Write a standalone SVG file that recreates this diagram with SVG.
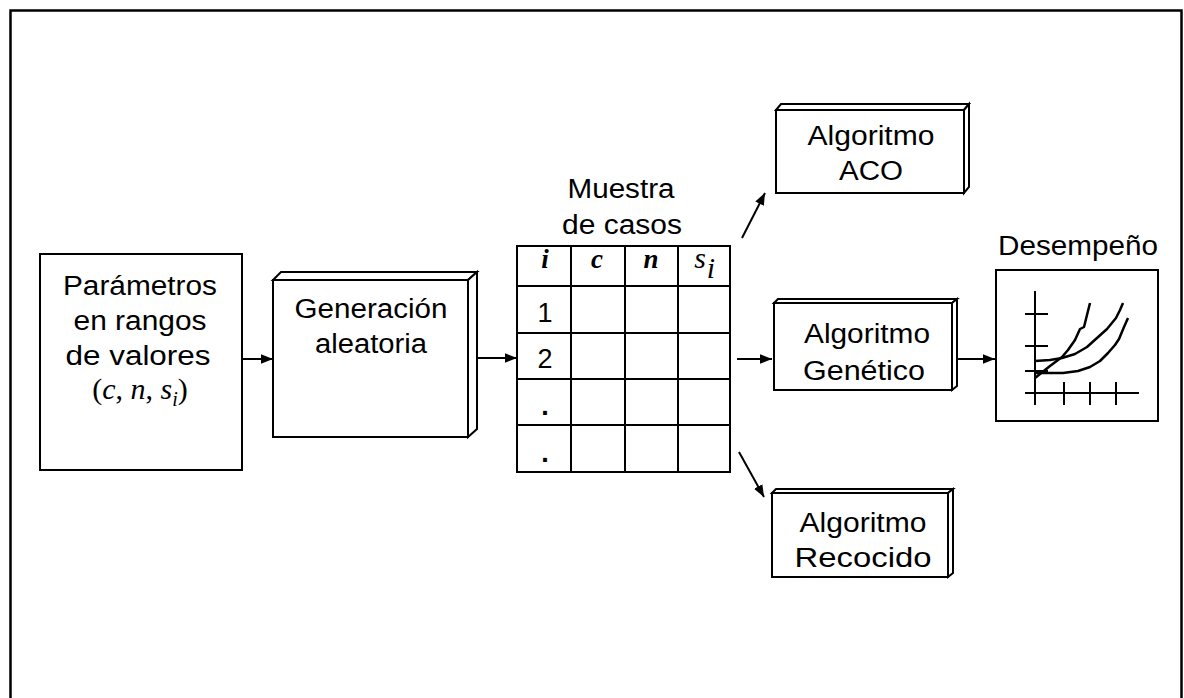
<svg xmlns="http://www.w3.org/2000/svg" width="1184" height="698" viewBox="0 0 1184 698">
  <defs>
    <marker id="head" viewBox="0 0 10 8" refX="10" refY="4" markerWidth="12" markerHeight="10" markerUnits="userSpaceOnUse" orient="auto">
      <path d="M0,0 L10,4 L0,8 Z" fill="#000"/>
    </marker>
    <style>
      .box { fill: #fff; stroke: #000; stroke-width: 2; stroke-linejoin: miter; }
      .lbl { font-family: "Liberation Sans", Arial, sans-serif; font-size: 27px; fill: #000; text-anchor: middle; }
      .math { font-family: "Liberation Serif", "Times New Roman", serif; font-size: 30px; fill: #000; text-anchor: middle; }
      .it { font-style: italic; }
      .hd { font-weight: bold; font-size: 27px; }
      .wire { stroke: #000; stroke-width: 2; fill: none; marker-end: url(#head); }
      .grid { stroke: #000; stroke-width: 2; fill: none; }
      .plot { stroke: #000; stroke-width: 2.5; fill: none; stroke-linejoin: round; }
    </style>
  </defs>

  <rect x="0" y="0" width="1184" height="698" fill="#fff"/>
  <!-- outer frame -->
  <rect x="10.5" y="10.5" width="1171" height="700" fill="none" stroke="#000" stroke-width="2.5"/>

  <!-- input parameters -->
  <g id="parametros">
    <rect class="box" x="40" y="254" width="202" height="216"/>
    <text class="lbl" x="140" y="295" textLength="154" lengthAdjust="spacingAndGlyphs">Parámetros</text>
    <text class="lbl" x="140" y="330" textLength="133" lengthAdjust="spacingAndGlyphs">en rangos</text>
    <text class="lbl" x="138" y="365" textLength="145" lengthAdjust="spacingAndGlyphs">de valores</text>
    <text class="math" x="140" y="399">(<tspan class="it">c</tspan>, <tspan class="it">n</tspan>, <tspan class="it">s</tspan><tspan class="it" font-size="20" dy="7">i</tspan><tspan dy="-7">)</tspan></text>
  </g>

  <!-- random generation (3D block) -->
  <g id="generacion">
    <polygon class="box" points="273,280 281,272 477,272 468,280"/>
    <polygon class="box" points="468,280 477,272 477,429 468,437"/>
    <rect class="box" x="273" y="280" width="195" height="157"/>
    <text class="lbl" x="371" y="318" textLength="153" lengthAdjust="spacingAndGlyphs">Generación</text>
    <text class="lbl" x="371" y="353" textLength="112" lengthAdjust="spacingAndGlyphs">aleatoria</text>
  </g>

  <!-- sample table -->
  <g id="muestra">
    <text class="lbl" x="621" y="198" textLength="107" lengthAdjust="spacingAndGlyphs">Muestra</text>
    <text class="lbl" x="622" y="234" textLength="120" lengthAdjust="spacingAndGlyphs">de casos</text>
    <rect class="grid" x="517" y="246" width="213" height="226" fill="#fff"/>
    <path class="grid" d="M571,246 V472 M625,246 V472 M678,246 V472 M517,286 H730 M517,333 H730 M517,379 H730 M517,425 H730"/>
    <text class="math it hd" x="545" y="268">i</text>
    <text class="math it hd" x="597" y="268">c</text>
    <text class="math it hd" x="651" y="268">n</text>
    <text class="math it" x="700" y="268" font-size="28">s</text>
    <text class="math it" x="711" y="278" font-size="19">i</text>
    <text class="lbl" x="545" y="322" font-size="28">1</text>
    <text class="lbl" x="545" y="368" font-size="28">2</text>
    <text class="lbl" x="545" y="415" font-size="28" font-weight="bold">.</text>
    <text class="lbl" x="545" y="462" font-size="28" font-weight="bold">.</text>
  </g>

  <!-- ACO algorithm -->
  <g id="aco">
    <polygon class="box" points="776,110 781,104 969,104 964,110"/>
    <polygon class="box" points="964,110 969,104 969,187 964,193"/>
    <rect class="box" x="776" y="110" width="188" height="83"/>
    <text class="lbl" x="871" y="145" textLength="127" lengthAdjust="spacingAndGlyphs">Algoritmo</text>
    <text class="lbl" x="871" y="180" textLength="64" lengthAdjust="spacingAndGlyphs">ACO</text>
  </g>

  <!-- genetic algorithm -->
  <g id="genetico">
    <polygon class="box" points="774,303 778,299 957,299 952,303"/>
    <polygon class="box" points="952,303 957,299 957,386 952,390"/>
    <rect class="box" x="774" y="303" width="178" height="87"/>
    <text class="lbl" x="867" y="343" textLength="126" lengthAdjust="spacingAndGlyphs">Algoritmo</text>
    <text class="lbl" x="864" y="380" textLength="122" lengthAdjust="spacingAndGlyphs">Genético</text>
  </g>

  <!-- simulated annealing -->
  <g id="recocido">
    <polygon class="box" points="772,493 776,489 953,489 948,493"/>
    <polygon class="box" points="948,493 953,489 953,573 948,577"/>
    <rect class="box" x="772" y="493" width="176" height="84"/>
    <text class="lbl" x="863" y="532" textLength="127" lengthAdjust="spacingAndGlyphs">Algoritmo</text>
    <text class="lbl" x="863" y="567" textLength="137" lengthAdjust="spacingAndGlyphs">Recocido</text>
  </g>

  <!-- performance chart -->
  <g id="desempeno">
    <text class="lbl" x="1078" y="255" textLength="160" lengthAdjust="spacingAndGlyphs">Desempeño</text>
    <rect class="box" x="996" y="270" width="162" height="151"/>
    <path class="grid" stroke-width="2.5" d="M1035,291 V405 M1025,393 H1139 M1025,314 H1048 M1025,346 H1048 M1025,371 H1048 M1064,382 V405 M1090,382 V405 M1116,382 V405"/>
    <path class="plot" d="M1035,378 L1050,366 L1062,357 L1068,350 L1075,340 L1080,329 L1084,327 L1087,315 L1090,303"/>
    <path class="plot" d="M1035,361 L1050,360 L1062,358 L1075,354 L1087,347 L1097,338 L1107,329 L1116,318 L1120,310 L1123,303"/>
    <path class="plot" d="M1035,373 L1063,373 L1078,371 L1090,367 L1100,361 L1108,353 L1115,345 L1119,339 L1124,327 L1128,318"/>
  </g>

  <!-- connectors -->
  <g id="connectors">
    <line class="wire" x1="242" y1="359" x2="273" y2="359"/>
    <line class="wire" x1="477" y1="358" x2="517" y2="358"/>
    <line class="wire" x1="737" y1="359" x2="772" y2="359"/>
    <line class="wire" x1="742" y1="238" x2="765" y2="193"/>
    <line class="wire" x1="739" y1="452" x2="764" y2="497"/>
    <line class="wire" x1="957" y1="359" x2="995" y2="359"/>
  </g>
</svg>
